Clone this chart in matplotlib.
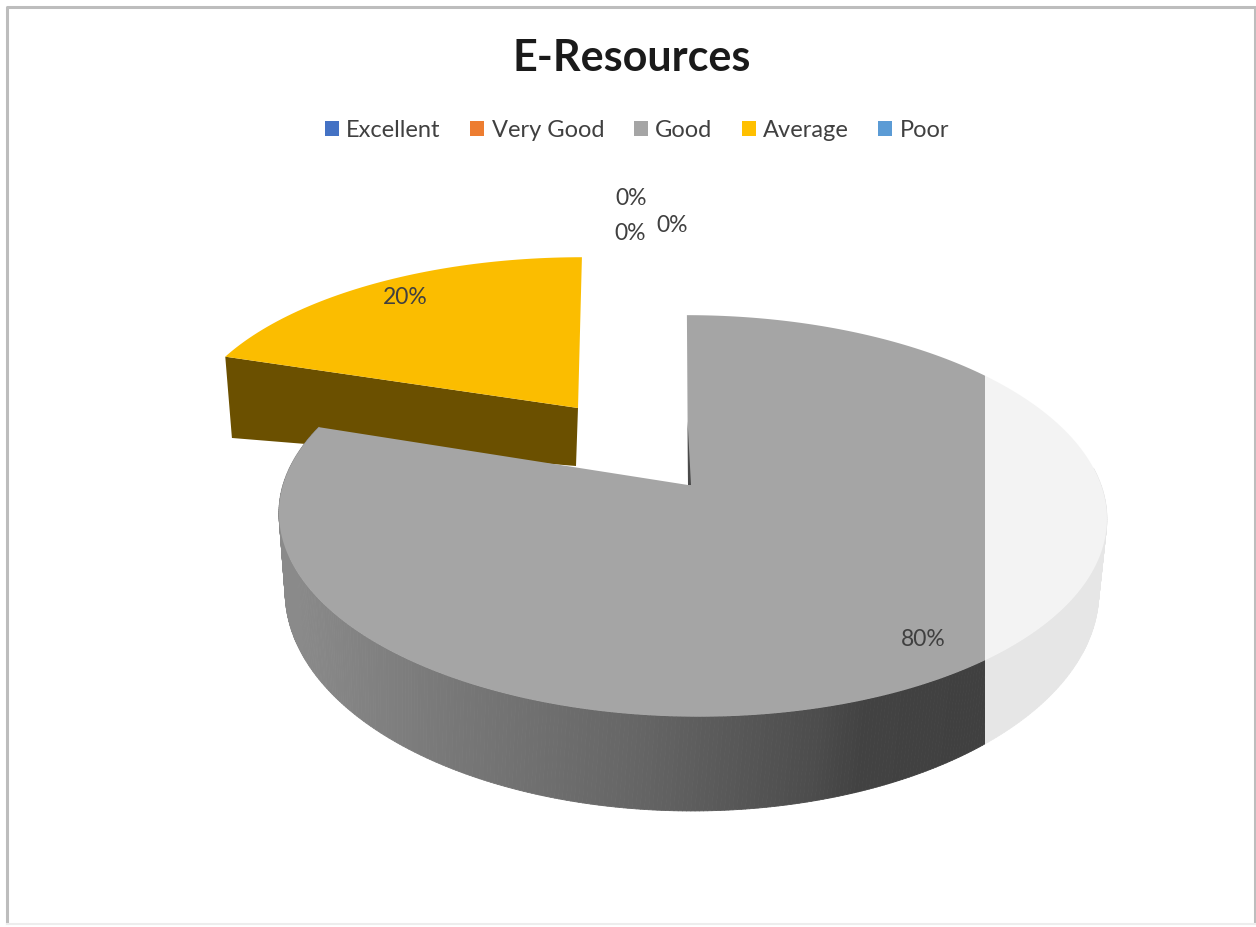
import numpy as np
import matplotlib
matplotlib.use("Agg")
import matplotlib.pyplot as plt
from matplotlib.patches import Patch, Polygon, Rectangle
from matplotlib.collections import PolyCollection

plt.rcParams['font.family'] = ['Lato', 'DejaVu Sans']

title = "E-Resources"
categories = ["Excellent", "Very Good", "Good", "Average", "Poor"]
values = [0, 0, 80, 20, 0]
slice_colors = ["#4472C4", "#ED7D31", "#A5A5A5", "#FFC000", "#5B9BD5"]
label_pos = [(631, 198), (630, 233), (923, 639), (405, 297), (672, 225)]

# perspective planes of the fake 3d pie, in image pixels
GOOD_TOP = dict(x0=692, y0=485, a=196, b=409, k=0.154, s=0.03)
GOOD_LOW = dict(x0=692, y0=558, a=214, b=402, k=0.154, s=0.0)
AVG_TOP = dict(x0=578, y0=408, a=174, b=390, k=0.154, s=-0.026)
AVG_LOW = dict(x0=576, y0=466, a=95, b=379, k=0.154, s=0.0)
GOOD_APEX = (688, 485)
WASH_X = 985


def rim(theta, p):
    # theta in degrees, clockwise from twelve o'clock
    t = np.radians(theta)
    den = 1 + p["k"] * np.cos(t)
    y = p["y0"] - p["a"] * np.cos(t) / den
    x = p["x0"] + p["b"] * np.sin(t) / den + p["s"] * (y - p["y0"])
    return np.column_stack([x, y])


fig = plt.figure(figsize=(12.56, 9.27), dpi=100)
ax = fig.add_axes([0, 0, 1, 1])
ax.set_xlim(0, 1256)
ax.set_ylim(927, 0)
ax.axis("off")

# slice angles from the values
total = sum(values)
edges = np.cumsum([0] + values) / total * 360
good_from, good_to = edges[2], edges[3]
avg_from, avg_to = edges[3], edges[4]

# outer frame
ax.plot([7, 7, 1255, 1255], [923, 7, 7, 923], color="#BDBDBD", lw=2.2)
ax.plot([7, 1255], [924, 924], color="#EDEDED", lw=1.5)

# yellow slice, pulled out of the pie
avg_arc = rim(np.linspace(avg_from, avg_to, 60), AVG_TOP)
avg_apex = rim(np.array([90.0]), dict(AVG_TOP, a=0, b=0))[0]
low_apex = rim(np.array([90.0]), dict(AVG_LOW, a=0, b=0))[0]
low_edge = rim(np.array([avg_from]), AVG_LOW)[0]
ax.add_patch(Polygon([avg_apex, avg_arc[0], low_edge, low_apex], fc="#6B5000", ec="none", zorder=2))
ax.add_patch(Polygon(np.vstack([[avg_apex], avg_arc]), fc="#FBBD00", ec="none", zorder=3))

# grey slice wall, shaded by x
angles = np.linspace(85, good_to, 400)
top_arc = rim(angles, GOOD_TOP)
low_arc = rim(angles, GOOD_LOW)
quads = []
shades = []
for i in range(len(angles) - 1):
    quads.append([top_arc[i], top_arc[i + 1], low_arc[i + 1], low_arc[i]])
    g = np.interp(top_arc[i, 0], [297, 453, 637, 729, 820, 866, 985],
                  [0.54, 0.47, 0.40, 0.35, 0.30, 0.26, 0.25])
    shades.append((g, g, g))
ax.add_collection(PolyCollection(quads, facecolors=shades, edgecolors=shades, linewidths=0.6, zorder=4))

# grey slice top
good_arc = rim(np.linspace(good_from, good_to, 300), GOOD_TOP)
ax.add_patch(Polygon(np.vstack([[GOOD_APEX], good_arc]), fc="#A5A5A5", ec="none", zorder=5))

# dark sliver of the cut at twelve o'clock
start = good_arc[0]
mid = (np.array(GOOD_APEX) + start * 0.6) / 1.6
ax.add_patch(Polygon([GOOD_APEX, mid, (GOOD_APEX[0] + 3, GOOD_APEX[1])], fc="#4A4A4A", ec="none", zorder=6))

# the washed out right hand side of the scan
ax.add_patch(Rectangle((WASH_X, 300), 160, 500, fc="white", ec="none", alpha=0.875, zorder=7))

# percent labels
for v, (x, y) in zip(values, label_pos):
    ax.text(x, y, f"{v / total:.0%}", ha="center", va="center", fontsize=16.5, color="#404040", zorder=8)

ax.text(632, 58, title, ha="center", va="center", fontsize=31, fontweight="bold", color="#1A1A1A")

handles = [Patch(fc=c, ec="none") for c in slice_colors]
ax.legend(handles, categories, ncol=5, loc="center", bbox_to_anchor=(637, 130),
          bbox_transform=ax.transData, frameon=False, fontsize=17, labelcolor="#404040",
          handlelength=0.6, handleheight=0.6, handletextpad=0.3, columnspacing=1.25)

fig.savefig("out.png", dpi=100)
